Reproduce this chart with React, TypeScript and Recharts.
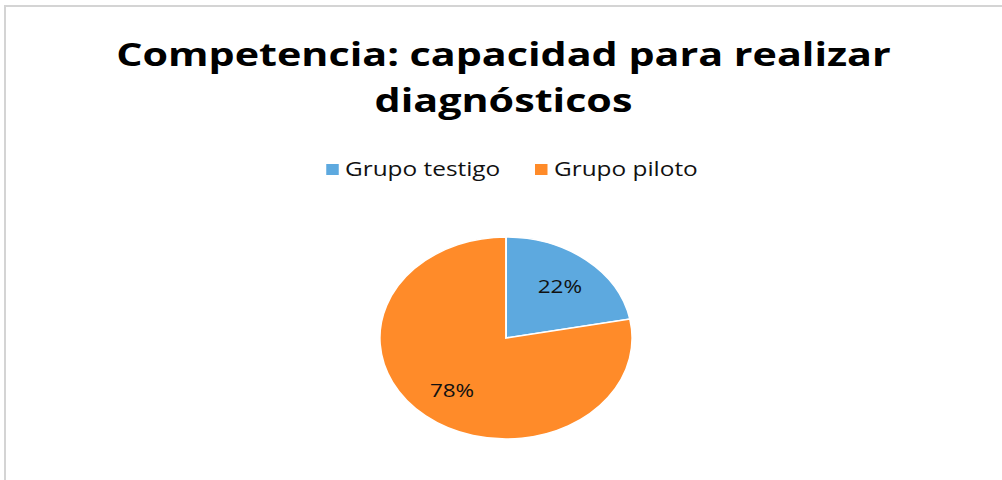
import { PieChart, Pie, Cell } from "recharts";

const groups = ["Grupo testigo", "Grupo piloto"];
const shares = [22, 78];
const colors = ["#5DA9DF", "#FF8B29"];

const titleLines = ["Competencia: capacidad para realizar", "diagnósticos"];

const data = groups.map((name, i) => ({ name, value: shares[i] }));

// the reference is stretched horizontally, so the chart is drawn narrow and scaled
const STRETCH = 1.25;
const W = 1002 / STRETCH;
const H = 480;
const RADIAN = Math.PI / 180;

const font = "'Open Sans', 'DejaVu Sans', sans-serif";

function renderLabel(props: any) {
  const { cx, cy, midAngle, outerRadius, percent } = props;
  const r = outerRadius * 0.67;
  const x = cx + r * Math.cos(-midAngle * RADIAN);
  const y = cy + r * Math.sin(-midAngle * RADIAN);
  return (
    <text
      x={x}
      y={y}
      fill="#111"
      fontSize={18}
      fontFamily={font}
      textAnchor="middle"
      dominantBaseline="central"
    >
      {`${Math.round(percent * 100)}%`}
    </text>
  );
}

function LegendBox() {
  return (
    <div
      style={{
        position: "absolute",
        left: 8.8,
        top: 155,
        width: W,
        display: "flex",
        justifyContent: "center",
        fontFamily: font,
        fontSize: 19.5,
        lineHeight: "28px",
        color: "#111",
      }}
    >
      {groups.map((g, i) => (
        <div key={g} style={{ display: "flex", alignItems: "center", marginRight: i === 0 ? 28 : 0 }}>
          <span style={{ width: 10, height: 11, background: colors[i], display: "inline-block", marginRight: 5 }} />
          <span>{g}</span>
        </div>
      ))}
    </div>
  );
}

export default function App() {
  return (
    <div style={{ position: "absolute", left: 0, top: 0, width: 1002, height: 480, overflow: "hidden", background: "#fff" }}>
      <div
        style={{
          position: "absolute",
          left: 4,
          top: 5,
          width: 1100,
          height: 600,
          border: "2px solid #d4d4d4",
        }}
      />
      <div
        style={{
          position: "absolute",
          left: 0,
          top: 0,
          width: W,
          height: H,
          transform: `scaleX(${STRETCH})`,
          transformOrigin: "0 0",
        }}
      >
        <div
          style={{
            position: "absolute",
            left: 0,
            top: 31,
            width: W + 4,
            textAlign: "center",
            fontFamily: font,
            fontWeight: 700,
            fontSize: 33,
            lineHeight: "46px",
            color: "#000",
          }}
        >
          {titleLines.map((t) => (
            <div key={t}>{t}</div>
          ))}
        </div>
        <LegendBox />
        <div style={{ position: "absolute", left: 0, top: 0 }}>
          <PieChart width={W} height={H} margin={{ top: 0, right: 0, bottom: 0, left: 0 }}>
            <Pie
              data={data}
              dataKey="value"
              nameKey="name"
              cx={404.8}
              cy={338}
              outerRadius={101}
              startAngle={90}
              endAngle={-270}
              stroke="#fff"
              strokeWidth={1.5}
              label={renderLabel}
              labelLine={false}
              isAnimationActive={false}
            >
              {data.map((d, i) => (
                <Cell key={d.name} fill={colors[i]} />
              ))}
            </Pie>
          </PieChart>
        </div>
      </div>
    </div>
  );
}
